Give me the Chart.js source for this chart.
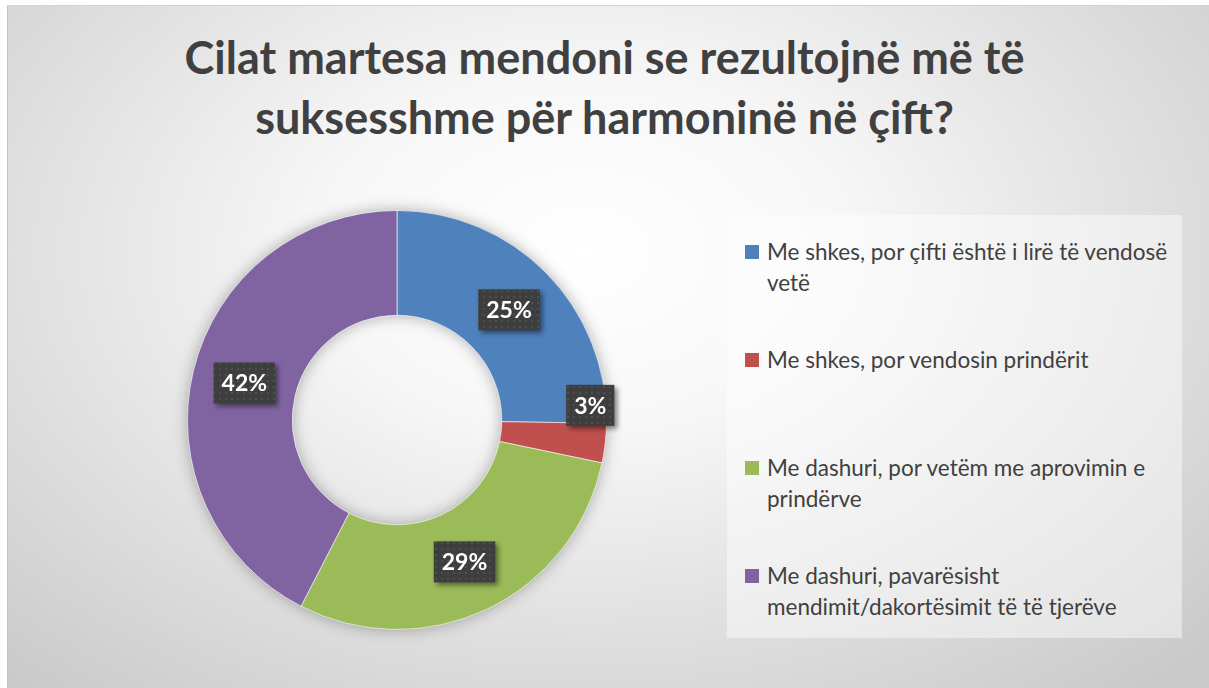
<!DOCTYPE html>
<html>
<head>
<meta charset="utf-8">
<script src="https://cdn.jsdelivr.net/npm/chart.js@4.4.0/dist/chart.umd.min.js"></script>
<style>
  html, body { margin: 0; padding: 0; background: #fff; width: 1209px; height: 688px; overflow: hidden; }
  #frame {
    position: absolute; left: 7px; top: 5px; width: 1202px; height: 683px;
    background: radial-gradient(ellipse 72% 85% at 48% 36%, #ffffff 0%, #f7f7f7 30%, #e2e2e2 62%, #c9c9c9 100%);
    border-left: 1px solid #c4c4c4; border-top: 1px solid #d4d4d4;
  }
  #title {
    position: absolute; left: 0; top: 27px; width: 1209px; text-align: center;
    font-family: Lato, sans-serif; font-weight: bold; font-size: 45px; line-height: 60px; color: #404040;
  }
  #chartBox { position: absolute; left: 157px; top: 180px; width: 480px; height: 480px; }
  #legend {
    position: absolute; left: 727px; top: 215px; width: 455px; height: 423px;
    background: rgba(255, 255, 255, 0.45);
  }
  .item { position: absolute; left: 0; width: 455px; }
  .swatch { position: absolute; left: 18px; top: 9px; width: 14px; height: 14px; }
  .txt {
    position: absolute; left: 40px; top: 0; width: 410px;
    font-family: Lato, sans-serif; font-size: 22.5px; line-height: 31px; color: #404040;
  }
</style>
</head>
<body>
<div id="frame"></div>
<div id="title">Cilat martesa mendoni se rezultojnë më të<br>suksesshme për harmoninë në çift?</div>
<div id="chartBox"><canvas id="chart"></canvas></div>
<div id="legend"></div>
<script>
const categories = [
  'Me shkes, por çifti është i lirë të vendosë vetë',
  'Me shkes, por vendosin prindërit',
  'Me dashuri, por vetëm me aprovimin e prindërve',
  'Me dashuri, pavarësisht mendimit/dakortësimit të të tjerëve'
];
const percentages = [25, 3, 29, 42];
const sliceColors = ['#4f81bd', '#c0504d', '#9bbb59', '#8064a2'];

// legend (HTML so the long labels can wrap like the original)
const legendEl = document.getElementById('legend');
categories.forEach((c, i) => {
  const it = document.createElement('div');
  it.className = 'item';
  it.style.top = (21 + i * 108) + 'px';
  it.innerHTML = '<div class="swatch" style="background:' + sliceColors[i] + '"></div><div class="txt">' + c + '</div>';
  legendEl.appendChild(it);
});

// dotted dark fill for the value boxes
const pc = document.createElement('canvas');
pc.width = 6; pc.height = 6;
const pctx = pc.getContext('2d');
pctx.fillStyle = '#3e3e3e'; pctx.fillRect(0, 0, 6, 6);
pctx.fillStyle = '#4e4e4e'; pctx.fillRect(2, 2, 2, 2);

// where along each slice the label sits (fraction of angle, fraction of ring width)
// the small slice's label is pushed out and up so it does not cover the slice
const labelAlong = [0.5, -0.48, 0.5, 0.5];
const labelOut = [0.5, 0.85, 0.5, 0.5];

const ringShadow = {
  id: 'ringShadow',
  beforeDatasetsDraw(chart) {
    const arc = chart.getDatasetMeta(0).data[0];
    if (!arc) return;
    const { x, y, innerRadius, outerRadius } = arc.getProps(['x', 'y', 'innerRadius', 'outerRadius'], true);
    const ctx = chart.ctx;
    ctx.save();
    ctx.shadowColor = 'rgba(0,0,0,0.35)';
    ctx.shadowBlur = 16;
    ctx.beginPath();
    ctx.arc(x, y, outerRadius - 1, 0, Math.PI * 2);
    ctx.arc(x, y, innerRadius + 1, 0, Math.PI * 2, true);
    ctx.fillStyle = '#999';
    ctx.fill();
    ctx.restore();
  }
};

const valueBoxes = {
  id: 'valueBoxes',
  afterDatasetsDraw(chart) {
    const ctx = chart.ctx;
    const pattern = ctx.createPattern(pc, 'repeat');
    chart.getDatasetMeta(0).data.forEach((arc, i) => {
      const p = arc.getProps(['x', 'y', 'startAngle', 'endAngle', 'innerRadius', 'outerRadius'], true);
      const a = p.startAngle + (p.endAngle - p.startAngle) * labelAlong[i];
      const r = p.innerRadius + (p.outerRadius - p.innerRadius) * labelOut[i];
      const cx = p.x + Math.cos(a) * r;
      const cy = p.y + Math.sin(a) * r;
      const text = percentages[i] + '%';
      ctx.save();
      ctx.font = 'bold 23px Lato, sans-serif';
      const w = ctx.measureText(text).width + 16;
      const h = 41;
      ctx.shadowColor = 'rgba(0,0,0,0.45)';
      ctx.shadowBlur = 5;
      ctx.shadowOffsetX = 3;
      ctx.shadowOffsetY = 3;
      ctx.fillStyle = pattern;
      ctx.fillRect(cx - w / 2, cy - h / 2, w, h);
      ctx.shadowColor = 'transparent';
      ctx.fillStyle = '#ffffff';
      ctx.textAlign = 'center';
      ctx.textBaseline = 'middle';
      ctx.fillText(text, cx, cy + 1);
      ctx.restore();
    });
  }
};

new Chart(document.getElementById('chart'), {
  type: 'doughnut',
  data: {
    labels: categories,
    datasets: [{
      data: percentages,
      backgroundColor: sliceColors,
      borderColor: 'rgba(255,255,255,0.6)',
      borderWidth: 1
    }]
  },
  options: {
    responsive: true,
    maintainAspectRatio: false,
    animation: false,
    cutout: '50%',
    layout: { padding: 30 },
    plugins: {
      legend: { display: false },
      title: { display: false },
      tooltip: { enabled: false }
    }
  },
  plugins: [ringShadow, valueBoxes]
});
</script>
</body>
</html>
